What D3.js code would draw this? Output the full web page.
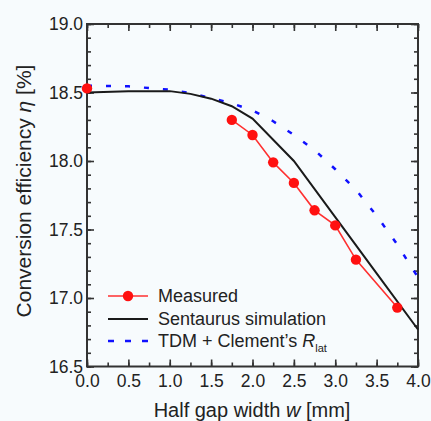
<!DOCTYPE html>
<html lang="en">
<head>
<meta charset="UTF-8"/>
<title>Conversion efficiency vs half gap width</title>
<script src="https://d3js.org/d3.v7.min.js"></script>
<style>
  html, body { margin: 0; background: #f7fbfd; }
  svg { display: block; font-family: 'Liberation Sans', Arial, sans-serif; }
  .axis text { font-size: 17.5px; fill: #222; }
  .axis line { stroke: #333; stroke-width: 1.6; }
  .axis path { display: none; }
  .label { font-size: 20px; fill: #222; }
  .ylabel { font-size: 21px; }
  .legend text { font-size: 18px; fill: #222; }
</style>
</head>
<body>
<svg width="431" height="421"></svg>
<script>
// tick labels
const xTicks = [0, 0.5, 1, 1.5, 2, 2.5, 3, 3.5, 4]
const yTicks = [16.5, 17, 17.5, 18, 18.5, 19]

// Measured (red dots)
const measuredX = [0, 1.75, 2.0, 2.25, 2.5, 2.75, 3.0, 3.25, 3.75]
const measuredY = [18.53, 18.30, 18.19, 17.99, 17.84, 17.64, 17.53, 17.28, 16.93]

// Sentaurus simulation (black)
const sentaurusX = [0, 0.5, 1.0, 1.25, 1.5, 1.75, 2.0, 2.5, 3.0, 3.5, 4.0]
const sentaurusY = [18.50, 18.51, 18.51, 18.49, 18.455, 18.40, 18.31, 18.0, 17.59, 17.18, 16.77]

// TDM + Clement's R_lat (blue dashed)
const tdmX = [0, 0.5, 1.0, 1.25, 1.5, 1.75, 2.0, 2.25, 2.5, 2.75, 3.0, 3.25, 3.5, 3.75, 4.0]
const tdmY = [18.55, 18.545, 18.52, 18.495, 18.46, 18.42, 18.37, 18.29, 18.19, 18.08, 17.94, 17.79, 17.60, 17.39, 17.15]

const svg = d3.select('svg')

const pLeft = 87, pRight = 418, pTop = 24, pBottom = 366.5

const xScale = d3.scaleLinear().domain([0, 4]).range([pLeft, pRight])
const yScale = d3.scaleLinear().domain([16.5, 19]).range([pBottom, pTop])

const xMinor = d3.range(0, 4.001, 0.25)
const yMinor = d3.range(16.5, 19.001, 0.1)

// minor ticks on all four sides
svg.append('g').attr('class', 'axis')
  .attr('transform', `translate(0, ${pBottom})`)
  .call(d3.axisBottom(xScale).tickValues(xMinor).tickSize(-4).tickFormat(''))
svg.append('g').attr('class', 'axis')
  .attr('transform', `translate(0, ${pTop})`)
  .call(d3.axisTop(xScale).tickValues(xMinor).tickSize(-4).tickFormat(''))
svg.append('g').attr('class', 'axis')
  .attr('transform', `translate(${pLeft}, 0)`)
  .call(d3.axisLeft(yScale).tickValues(yMinor).tickSize(-4).tickFormat(''))
svg.append('g').attr('class', 'axis')
  .attr('transform', `translate(${pRight}, 0)`)
  .call(d3.axisRight(yScale).tickValues(yMinor).tickSize(-4).tickFormat(''))

// major ticks + labels
svg.append('g').attr('class', 'axis')
  .attr('transform', `translate(0, ${pBottom})`)
  .call(d3.axisBottom(xScale).tickValues(xTicks).tickSize(-7).tickPadding(8).tickFormat(d3.format('.1f')))
svg.append('g').attr('class', 'axis')
  .attr('transform', `translate(0, ${pTop})`)
  .call(d3.axisTop(xScale).tickValues(xTicks).tickSize(-7).tickFormat(''))
svg.append('g').attr('class', 'axis')
  .attr('transform', `translate(${pLeft}, 0)`)
  .call(d3.axisLeft(yScale).tickValues(yTicks).tickSize(-7).tickPadding(4).tickFormat(d3.format('.1f')))
svg.append('g').attr('class', 'axis')
  .attr('transform', `translate(${pRight}, 0)`)
  .call(d3.axisRight(yScale).tickValues(yTicks).tickSize(-7).tickFormat(''))

// frame
svg.append('rect')
  .attr('x', pLeft).attr('y', pTop)
  .attr('width', pRight - pLeft).attr('height', pBottom - pTop)
  .attr('fill', 'none').attr('stroke', '#333').attr('stroke-width', 2)

const line = d3.line().x(d => xScale(d[0])).y(d => yScale(d[1]))

const tdm = tdmX.map((x, i) => [x, tdmY[i]])
const sentaurus = sentaurusX.map((x, i) => [x, sentaurusY[i]])
const measured = measuredX.map((x, i) => [x, measuredY[i]])

svg.append('path')
  .attr('d', line(tdm))
  .attr('fill', 'none').attr('stroke', '#1010ff')
  .attr('stroke-width', 2.5).attr('stroke-dasharray', '5,14')

svg.append('path')
  .attr('d', line(sentaurus))
  .attr('fill', 'none').attr('stroke', '#1a1a1a').attr('stroke-width', 2)

// measured line does not connect the w = 0 point
svg.append('path')
  .attr('d', line(measured.slice(1)))
  .attr('fill', 'none').attr('stroke', '#ff3030').attr('stroke-width', 1.6)

svg.selectAll('.dot')
  .data(measured)
  .enter()
  .append('circle')
  .attr('class', 'dot')
  .attr('cx', d => xScale(d[0]))
  .attr('cy', d => yScale(d[1]))
  .attr('r', 5.2)
  .attr('fill', '#ff1010')

// legend
const legend = svg.append('g').attr('class', 'legend')
legend.append('line')
  .attr('x1', 108).attr('x2', 148).attr('y1', 296).attr('y2', 296)
  .attr('stroke', '#ff3030').attr('stroke-width', 1.6)
legend.append('circle').attr('cx', 128).attr('cy', 296).attr('r', 5.2).attr('fill', '#ff1010')
legend.append('text').attr('x', 158).attr('y', 302).text('Measured')

legend.append('line')
  .attr('x1', 108).attr('x2', 148).attr('y1', 319).attr('y2', 319)
  .attr('stroke', '#1a1a1a').attr('stroke-width', 2.2)
legend.append('text').attr('x', 158).attr('y', 325).text('Sentaurus simulation')

legend.append('line')
  .attr('x1', 108).attr('x2', 148).attr('y1', 341).attr('y2', 341)
  .attr('stroke', '#1010ff').attr('stroke-width', 2.5).attr('stroke-dasharray', '6,11')
const tdmText = legend.append('text').attr('x', 158).attr('y', 347)
tdmText.append('tspan').text('TDM + Clement\u2019s ')
tdmText.append('tspan').attr('font-style', 'italic').text('R')
tdmText.append('tspan').attr('font-size', '11px').attr('dy', 5).text('lat')

// axis titles
const xLabel = svg.append('text')
  .attr('class', 'label')
  .attr('x', 252).attr('y', 417)
  .attr('text-anchor', 'middle')
xLabel.append('tspan').text('Half gap width ')
xLabel.append('tspan').attr('font-style', 'italic').text('w')
xLabel.append('tspan').text(' [mm]')

const yLabel = svg.append('text')
  .attr('class', 'label ylabel')
  .attr('transform', 'translate(31, 191) rotate(-90)')
  .attr('text-anchor', 'middle')
yLabel.append('tspan').text('Conversion efficiency ')
yLabel.append('tspan').attr('font-style', 'italic').text('\u03B7')
yLabel.append('tspan').text(' [%]')
</script>
</body>
</html>
